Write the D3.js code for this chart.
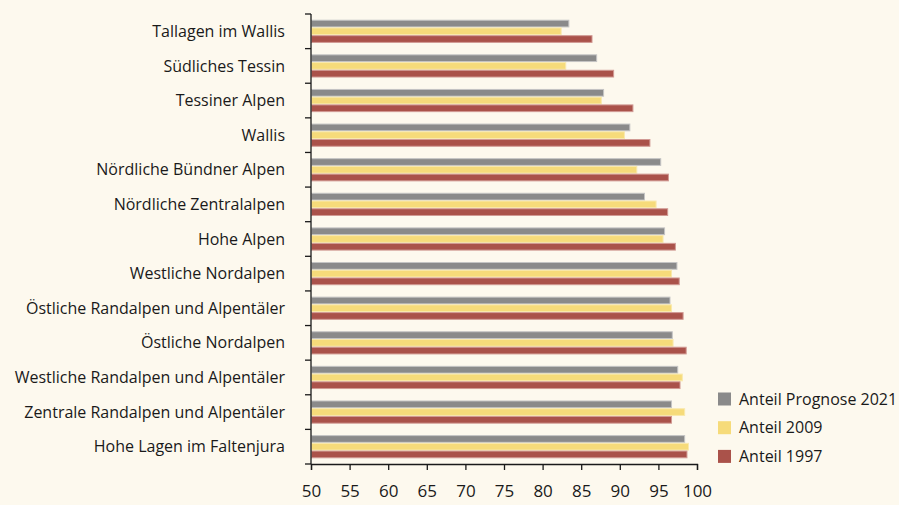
<!DOCTYPE html>
<html>
<head>
<meta charset="utf-8">
<script src="https://cdn.jsdelivr.net/npm/d3@7"></script>
<style>
  body { margin: 0; background: #fdf9ee; }
  svg { display: block; }
  text { font-family: "Open Sans", sans-serif; fill: #1a1a1a; }
</style>
</head>
<body>
<div id="chart"></div>
<script>
// categories (top to bottom)
var regions = [
  "Tallagen im Wallis",
  "Südliches Tessin",
  "Tessiner Alpen",
  "Wallis",
  "Nördliche Bündner Alpen",
  "Nördliche Zentralalpen",
  "Hohe Alpen",
  "Westliche Nordalpen",
  "Östliche Randalpen und Alpentäler",
  "Östliche Nordalpen",
  "Westliche Randalpen und Alpentäler",
  "Zentrale Randalpen und Alpentäler",
  "Hohe Lagen im Faltenjura"
];

// series values (%)
var prognose2021 = [83.4, 87.0, 87.9, 91.3, 95.3, 93.2, 95.8, 97.4, 96.5, 96.8, 97.5, 96.7, 98.4];
var anteil2009 = [82.4, 83.0, 87.6, 90.6, 92.2, 94.7, 95.6, 96.7, 96.7, 96.9, 98.1, 98.4, 98.9];
var anteil1997 = [86.4, 89.2, 91.7, 93.9, 96.3, 96.2, 97.2, 97.7, 98.2, 98.6, 97.8, 96.7, 98.7];

var seriesNames = ["Anteil Prognose 2021", "Anteil 2009", "Anteil 1997"];
var seriesValues = [prognose2021, anteil2009, anteil1997];
var colors = ["#8a8a8a", "#f6db7a", "#aa524a"];
var strokes = ["#c4c4c4", "#f9e9ad", "#d19a94"];

var xTicks = [50, 55, 60, 65, 70, 75, 80, 85, 90, 95, 100];

// svg container
var svgWidth = 899;
var svgHeight = 505;
var margin = { top: 14, left: 311, right: 202, bottom: 41 };
var width = svgWidth - margin.left - margin.right;
var height = svgHeight - margin.top - margin.bottom;

var svg = d3.select("#chart")
  .append("svg")
  .attr("width", svgWidth)
  .attr("height", svgHeight);

svg.append("rect")
  .attr("width", svgWidth)
  .attr("height", svgHeight)
  .attr("fill", "#fdf9ee");

var chartGroup = svg.append("g")
  .attr("transform", `translate(${margin.left}, ${margin.top})`);

// scales
var xScale = d3.scaleLinear()
  .domain([50, 100])
  .range([0, width]);

var yScale = d3.scaleBand()
  .domain(regions)
  .range([0, height])
  .paddingInner(0.33)
  .paddingOuter(0.165);

var innerScale = d3.scaleBand()
  .domain(d3.range(seriesNames.length))
  .range([0, yScale.bandwidth()]);

// bars
var rows = chartGroup.append("g")
  .selectAll("g")
  .data(regions)
  .enter()
  .append("g")
  .attr("transform", d => `translate(0, ${yScale(d)})`);

rows.selectAll("rect")
  .data((d, i) => seriesValues.map((vals, s) => ({ s: s, v: vals[i] })))
  .enter()
  .append("rect")
  .attr("x", 0.5)
  .attr("y", d => innerScale(d.s) + 0.5)
  .attr("width", d => xScale(d.v) - 0.5)
  .attr("height", innerScale.bandwidth() - 1)
  .attr("fill", d => colors[d.s])
  .attr("stroke", d => strokes[d.s])
  .attr("stroke-width", 1);

// y axis: ticks at band boundaries
var boundaries = d3.range(regions.length + 1).map(i => i * height / regions.length);
var yAxisG = chartGroup.append("g");
yAxisG.append("line")
  .attr("x1", 0).attr("x2", 0)
  .attr("y1", 0).attr("y2", height)
  .attr("stroke", "#1a1a1a")
  .attr("stroke-width", 1.3);
yAxisG.selectAll("line.tick")
  .data(boundaries)
  .enter()
  .append("line")
  .attr("class", "tick")
  .attr("x1", -6).attr("x2", 0)
  .attr("y1", d => d).attr("y2", d => d)
  .attr("stroke", "#1a1a1a")
  .attr("stroke-width", 1.3);

// category labels
chartGroup.append("g")
  .selectAll("text")
  .data(regions)
  .enter()
  .append("text")
  .attr("x", -26)
  .attr("y", d => yScale(d) + yScale.bandwidth() / 2)
  .attr("dy", "0.35em")
  .attr("text-anchor", "end")
  .attr("font-size", "16px")
  .text(d => d);

// x axis
var bottomAxis = d3.axisBottom(xScale)
  .tickValues(xTicks)
  .tickSize(6)
  .tickPadding(15);

var xAxisG = chartGroup.append("g")
  .attr("transform", `translate(0, ${height})`)
  .call(bottomAxis);
xAxisG.select(".domain").attr("stroke", "#1a1a1a").attr("stroke-width", 1.3);
xAxisG.selectAll(".tick line").attr("stroke", "#1a1a1a").attr("stroke-width", 1.3);
xAxisG.selectAll(".tick text")
  .attr("font-size", "17px")
  .attr("font-family", "Open Sans, sans-serif")
  .attr("fill", "#1a1a1a");

// legend
var legend = svg.append("g")
  .attr("transform", "translate(718, 399)");
var legendItems = legend.selectAll("g")
  .data(seriesNames)
  .enter()
  .append("g")
  .attr("transform", (d, i) => `translate(0, ${i * 28.7})`);
legendItems.append("rect")
  .attr("x", 0)
  .attr("y", -6.5)
  .attr("width", 13)
  .attr("height", 13)
  .attr("fill", (d, i) => colors[i]);
legendItems.append("text")
  .attr("x", 21)
  .attr("y", 0)
  .attr("dy", "0.35em")
  .attr("font-size", "16px")
  .text(d => d);
</script>
</body>
</html>
